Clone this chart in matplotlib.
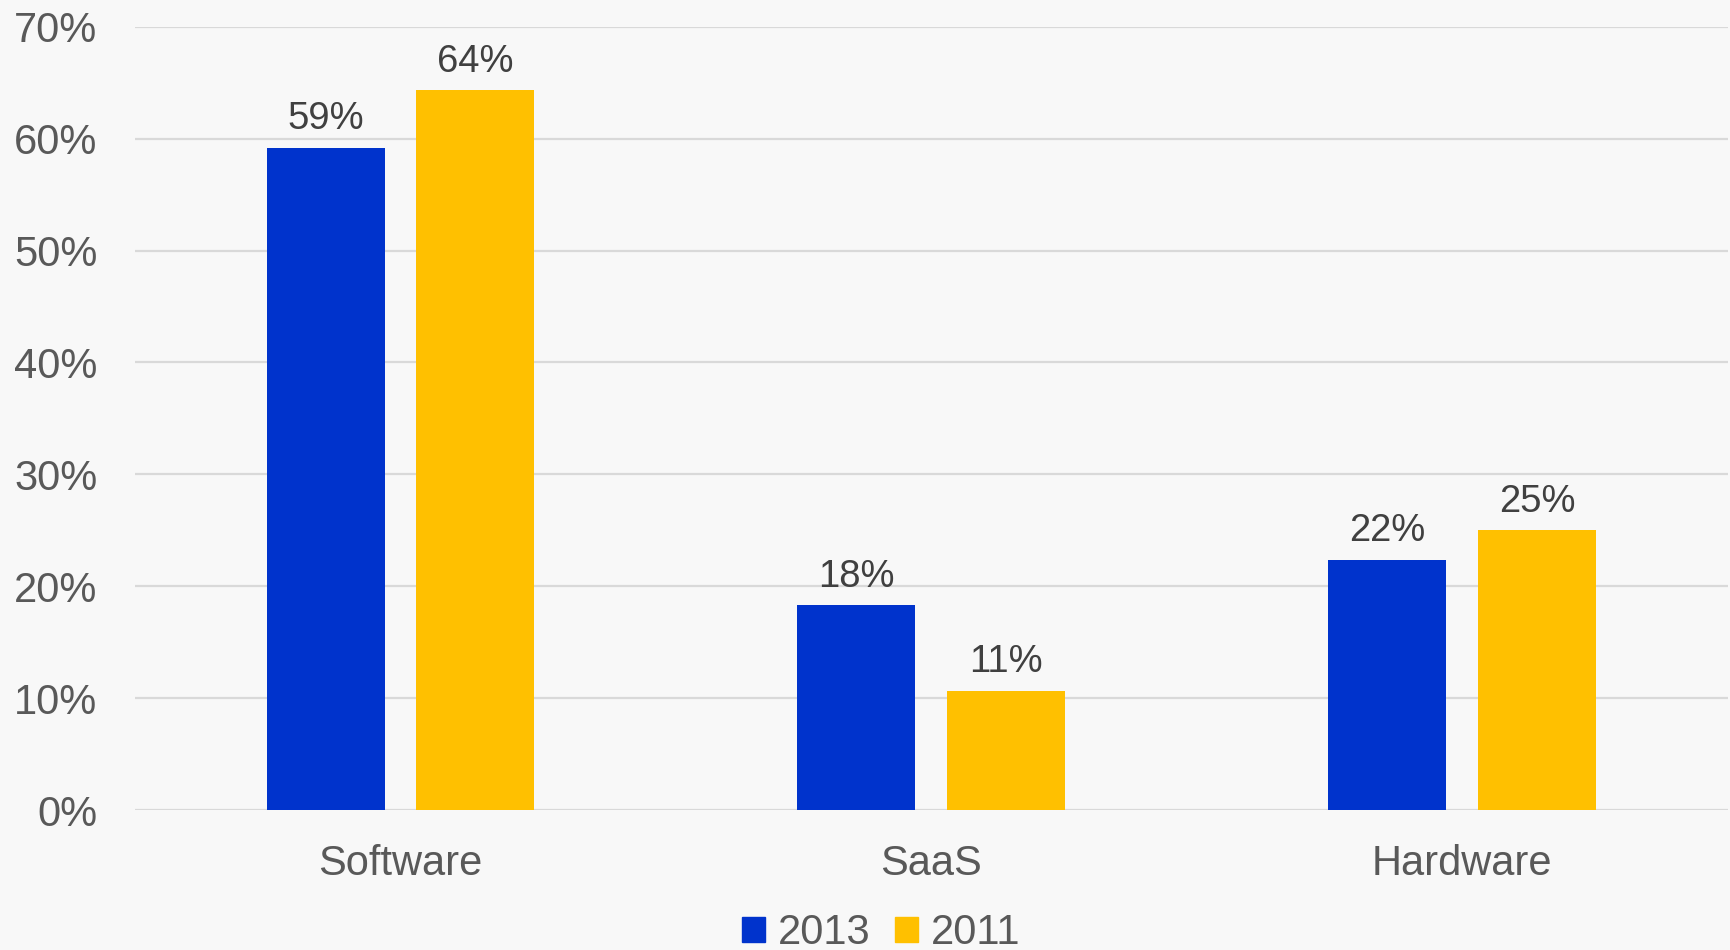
import matplotlib.pyplot as plt
import matplotlib.patches as mpatches
import numpy as np

plt.rcParams['font.family'] = ['Liberation Sans', 'DejaVu Sans']

categories = ['Software', 'SaaS', 'Hardware']
years = ['2013', '2011']
share_2013 = [59.2, 18.3, 22.4]
share_2011 = [64.3, 10.7, 25.0]
colors = ['#0033CC', '#FFC000']

bg = '#F8F8F8'
fig = plt.figure(figsize=(17.31, 9.5), dpi=100, facecolor=bg)
ax = fig.add_axes([0.078, 0.147, 0.92, 0.825], facecolor=bg)

x = np.arange(len(categories))
w = 0.2225
off = 0.141
for vals, dx, c in [(share_2013, -off, colors[0]), (share_2011, off, colors[1])]:
    bars = ax.bar(x + dx, vals, width=w, color=c, zorder=3)
    for b, v in zip(bars, vals):
        ax.annotate(f'{v:.0f}%', (b.get_x() + b.get_width() / 2, v),
                    xytext=(0, 7.5), textcoords='offset points',
                    ha='center', va='bottom', fontsize=27.5, color='#404040')

ax.set_xlim(-0.5, 2.5)
ax.set_ylim(0, 70)
ax.set_yticks(range(0, 71, 10))
ax.set_yticklabels([f'{t}%' for t in range(0, 71, 10)])
ax.set_xticks(x)
ax.set_xticklabels(categories)
ax.grid(axis='y', color='#D9D9D9', linewidth=1.6, zorder=0)
ax.tick_params(axis='y', length=0, pad=27, labelsize=30, labelcolor='#595959')
ax.tick_params(axis='x', length=0, pad=24, labelsize=30, labelcolor='#595959')
for s in ax.spines.values():
    s.set_visible(False)

handles = [mpatches.Patch(color=c, label=y) for c, y in zip(colors, years)]
fig.legend(handles=handles, loc='center', bbox_to_anchor=(0.509, 0.018),
           ncol=2, frameon=False, fontsize=30, labelcolor='#595959',
           handlelength=0.55, handleheight=0.55, handletextpad=0.3,
           columnspacing=0.6)

fig.savefig('out.png', dpi=100, facecolor=bg)
